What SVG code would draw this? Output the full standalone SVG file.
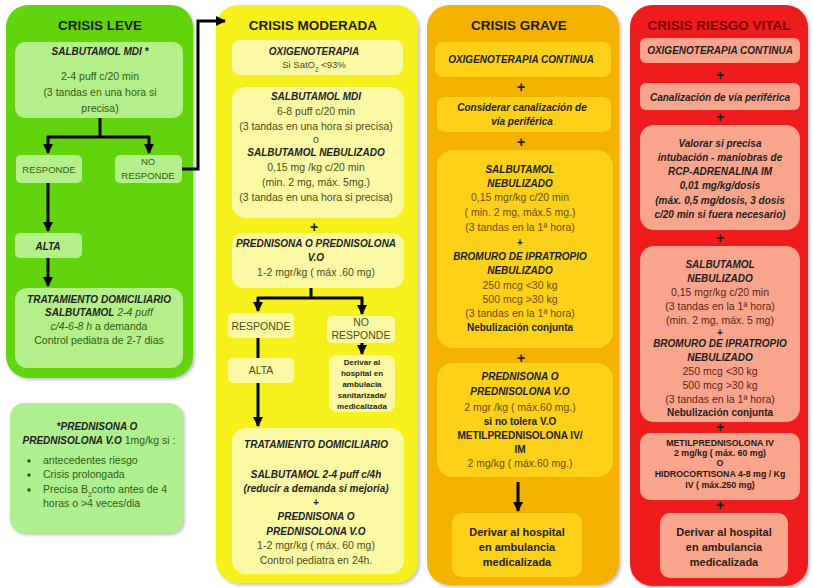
<svg xmlns="http://www.w3.org/2000/svg" width="813" height="588" viewBox="0 0 813 588">
<defs>
<style>
text{font-family:"Liberation Sans",Arial,sans-serif;text-anchor:middle}
.title{font-size:13.5px;font-weight:bold;fill:#1c1c10}
.bi{font-size:10px;font-weight:bold;font-style:italic;fill:#1e1e1e}
.it{font-style:italic}
.r{font-size:10.5px}
.b{font-size:10px;font-weight:bold;fill:#222}
.d{font-size:11px;font-weight:bold;fill:#2a2010}
.sm{font-size:8px;font-weight:bold;fill:#2a2a10}
.md{font-size:8.8px;font-weight:bold;fill:#2a1a10}
.plus{font-size:14px;font-weight:bold;fill:#1e1e1e}
.c1{fill:#62d40a}.i1{fill:#b5ef8a}.t1{fill:#2f5e14}
.c2{fill:#f6f01e}.i2{fill:#fbf9a4}.t2{fill:#4d4d14}
.c3{fill:#f3b200}.i3{fill:#fdd11a}.t3{fill:#6e4c00}
.c4{fill:#ee1b1b}.i4{fill:#f9a48c}.t4{fill:#5c2418}
.ln{fill:none;stroke:#000;stroke-width:3}
.ar{fill:none;stroke:#000;stroke-width:3;marker-end:url(#ah)}
</style>
<marker id="ah" markerUnits="userSpaceOnUse" markerWidth="12" markerHeight="10" refX="9" refY="5" orient="auto">
<path d="M0,0 L10,5 L0,10 Z" fill="#000"/>
</marker>
<filter id="sh" x="-5%" y="-5%" width="115%" height="115%">
<feDropShadow dx="2" dy="2" stdDeviation="1.5" flood-color="#888" flood-opacity="0.5"/>
</filter>
</defs>
<rect width="813" height="588" fill="#fff"/>

<!-- Column backgrounds -->
<g id="col-leve"><rect class="c1" x="6" y="5" width="187" height="373" rx="22" filter="url(#sh)"/><text class="title" x="100" y="30">CRISIS LEVE</text></g>
<g id="col-moderada"><rect class="c2" x="216" y="5" width="202" height="578" rx="22" filter="url(#sh)"/><text class="title" x="313" y="30">CRISIS MODERADA</text></g>
<g id="col-grave"><rect class="c3" x="427" y="5" width="192" height="580" rx="22" filter="url(#sh)"/><text class="title" x="519" y="30">CRISIS  GRAVE</text></g>
<g id="col-vital"><rect class="c4" x="630" y="5" width="178" height="581" rx="22" filter="url(#sh)"/><text class="title" x="719" y="30" style="fill:#7a0000">CRISIS RIESGO VITAL</text></g>

<!-- LEVE -->
<g id="leve-salbutamol"><rect class="i1" x="15" y="42" width="168" height="76" rx="10"/>
<text class="bi" x="100" y="55">SALBUTAMOL MDI *</text>
<text class="r t1" x="100" y="80">2-4 puff c/20 min</text>
<text class="r t1" x="100" y="96">(3 tandas  en una hora si</text>
<text class="r t1" x="100" y="112">precisa)</text></g>
<g id="leve-responde"><rect class="i1" x="16" y="155" width="66" height="28" rx="5"/><text class="r t1" x="49" y="173" style="font-size:9.5px">RESPONDE</text></g>
<g id="leve-noresponde"><rect class="i1" x="115" y="155" width="67" height="28" rx="5"/><text class="r t1" x="148" y="165" style="font-size:9.5px">NO</text><text class="r t1" x="148" y="179" style="font-size:9.5px">RESPONDE</text></g>
<g id="leve-alta"><rect class="i1" x="15" y="233" width="67" height="25" rx="5"/><text class="bi" x="48" y="250">ALTA</text></g>
<g id="leve-tratamiento"><rect class="i1" x="15" y="288" width="168" height="80" rx="12"/>
<text class="bi" x="99" y="303">TRATAMIENTO DOMICILIARIO</text>
<text class="r t1" x="99" y="316"><tspan class="bi">SALBUTAMOL</tspan><tspan class="it"> 2-4 puff</tspan></text>
<text class="r t1" x="99" y="330"><tspan class="it">c/4-6-8 h</tspan>  a demanda</text>
<text class="r t1" x="99" y="344">Control pediatra de 2-7 dias</text></g>
<g id="leve-nota"><rect class="i1" x="10" y="403" width="173" height="130" rx="14" style="fill:#aeef90" filter="url(#sh)"/>
<text class="bi" x="97" y="430">*PREDNISONA O</text>
<text class="r t1" x="99" y="444"><tspan class="bi">PREDNISOLONA V.O</tspan> 1mg/kg si :</text>
<circle cx="29" cy="461" r="1.8" class="t1"/><circle cx="29" cy="475" r="1.8" class="t1"/><circle cx="29" cy="490" r="1.8" class="t1"/>
<text class="r t1" x="43" y="464" style="text-anchor:start">antecedentes riesgo</text>
<text class="r t1" x="43" y="478" style="text-anchor:start">Crisis prolongada</text>
<text class="r t1" x="43" y="493" style="text-anchor:start">Precisa B<tspan baseline-shift="sub" font-size="7">2</tspan>corto antes de 4</text>
<text class="r t1" x="43" y="507" style="text-anchor:start">horas o &gt;4 veces/dia</text></g>

<!-- MODERADA -->
<g id="mod-oxigeno"><rect class="i2" x="232" y="40" width="171" height="35" rx="8"/>
<text class="bi" x="314" y="55">OXIGENOTERAPIA</text>
<text class="r t2" x="314" y="68" style="font-size:9.5px">Si SatO<tspan baseline-shift="sub" font-size="6.5">2</tspan> &lt;93%</text></g>
<g id="mod-salbutamol"><rect class="i2" x="232" y="87" width="172" height="131" rx="14"/>
<text class="bi" x="316" y="100">SALBUTAMOL MDI</text>
<text class="r t2" x="316" y="115">6-8 puff c/20 min</text>
<text class="r t2" x="316" y="130">(3 tandas  en una hora si precisa)</text>
<text class="r t2" x="316" y="143">o</text>
<text class="bi" x="316" y="156">SALBUTAMOL NEBULIZADO</text>
<text class="r t2" x="316" y="171">0,15 mg /kg c/20 min</text>
<text class="r t2" x="316" y="186">(min. 2 mg, máx. 5mg.)</text>
<text class="r t2" x="316" y="201">(3 tandas  en una hora si precisa)</text></g>
<text class="plus" x="314" y="232">+</text>
<g id="mod-prednisona"><rect class="i2" x="232" y="233" width="172" height="55" rx="12"/>
<text class="bi" x="316" y="247">PREDNISONA O PREDNISOLONA</text>
<text class="bi" x="316" y="261">V.O</text>
<text class="r t2" x="316" y="276">1-2 mgr/kg ( máx .60 mg)</text></g>
<g id="mod-responde"><rect class="i2" x="228" y="313" width="66" height="25" rx="5"/><text class="r t2" x="261" y="330">RESPONDE</text></g>
<g id="mod-noresponde"><rect class="i2" x="327" y="316" width="68" height="27" rx="5"/><text class="r t2" x="361" y="326">NO</text><text class="r t2" x="361" y="339">RESPONDE</text></g>
<g id="mod-derivar"><rect class="i2" x="329" y="355" width="66" height="57" rx="8"/>
<text class="sm" x="362" y="365">Derivar al</text>
<text class="sm" x="362" y="376">hospital en</text>
<text class="sm" x="362" y="387">ambulacia</text>
<text class="sm" x="362" y="398">sanitarizada/</text>
<text class="sm" x="362" y="409">medicalizada</text></g>
<g id="mod-alta"><rect class="i2" x="228" y="358" width="66" height="25" rx="5"/><text class="r t2" x="261" y="374">ALTA</text></g>
<g id="mod-tratamiento"><rect class="i2" x="232" y="428" width="172" height="146" rx="14"/>
<text class="bi" x="316" y="448">TRATAMIENTO DOMICILIARIO</text>
<text class="bi" x="316" y="478">SALBUTAMOL 2-4 puff c/4h</text>
<text class="bi" x="316" y="492">(reducir a demanda si mejoria)</text>
<text class="bi" x="316" y="506">+</text>
<text class="bi" x="316" y="520">PREDNISONA O</text>
<text class="bi" x="316" y="535">PREDNISOLONA V.O</text>
<text class="r t2" x="316" y="549">1-2 mgr/kg ( máx. 60 mg)</text>
<text class="r t2" x="316" y="564">Control pediatra en 24h.</text></g>

<!-- GRAVE -->
<g id="grave-oxigeno"><rect class="i3" x="435" y="42" width="176" height="35" rx="8"/>
<text class="bi" x="521" y="63">OXIGENOTERAPIA CONTINUA</text></g>
<text class="plus" x="521" y="92">+</text>
<g id="grave-canal"><rect class="i3" x="437" y="97" width="174" height="35" rx="8"/>
<text class="bi" x="522" y="111">Considerar canalización de</text>
<text class="bi" x="522" y="125">vía periférica</text></g>
<text class="plus" x="521" y="147">+</text>
<g id="grave-salbutamol"><rect class="i3" x="437" y="150" width="176" height="198" rx="16"/>
<text class="bi" x="520" y="173">SALBUTAMOL</text>
<text class="bi" x="520" y="187">NEBULIZADO</text>
<text class="r t3" x="520" y="201">0,15 mgr/kg c/20 min</text>
<text class="r t3" x="520" y="216">( min. 2 mg, máx.5 mg.)</text>
<text class="r t3" x="520" y="231">(3 tandas  en la 1ª hora)</text>
<text class="b" x="520" y="246">+</text>
<text class="bi" x="520" y="260">BROMURO DE IPRATROPIO</text>
<text class="bi" x="520" y="274">NEBULIZADO</text>
<text class="r t3" x="520" y="289">250 mcg  &lt;30 kg</text>
<text class="r t3" x="520" y="303">500 mcg  &gt;30 kg</text>
<text class="r t3" x="520" y="317">(3 tandas  en la 1ª hora)</text>
<text class="b" x="520" y="331">Nebulización conjunta</text></g>
<text class="plus" x="521" y="363">+</text>
<g id="grave-prednisona"><rect class="i3" x="437" y="363" width="176" height="114" rx="16"/>
<text class="bi" x="520" y="380">PREDNISONA O</text>
<text class="bi" x="520" y="395">PREDNISOLONA V.O</text>
<text class="r t3" x="520" y="411">2 mgr /kg ( máx.60 mg.)</text>
<text class="b" x="520" y="425">si no tolera V.O</text>
<text class="b" x="520" y="439">METILPREDNISOLONA IV/</text>
<text class="b" x="520" y="453">IM</text>
<text class="r t3" x="520" y="467">2 mg/kg ( máx.60 mg.)</text></g>
<g id="grave-derivar"><rect class="i3" x="452" y="513" width="130" height="64" rx="10"/>
<text class="d" x="517" y="536">Derivar al hospital</text>
<text class="d" x="517" y="551">en ambulancia</text>
<text class="d" x="517" y="566">medicalizada</text></g>

<!-- RIESGO VITAL -->
<g id="vital-oxigeno"><rect class="i4" x="640" y="38" width="160" height="25" rx="6"/>
<text class="bi" x="720" y="54">OXIGENOTERAPIA CONTINUA</text></g>
<text class="plus" x="720" y="80">+</text>
<g id="vital-canal"><rect class="i4" x="640" y="83" width="160" height="27" rx="6"/>
<text class="bi" x="720" y="101">Canalización de vía periférica</text></g>
<text class="plus" x="720" y="122">+</text>
<g id="vital-valorar"><rect class="i4" x="640" y="125" width="160" height="105" rx="14"/>
<text class="bi" x="720" y="147">Valorar si precisa</text>
<text class="bi" x="720" y="161">intubación - maniobras de</text>
<text class="bi" x="720" y="175">RCP-ADRENALINA IM</text>
<text class="bi" x="720" y="189">0,01 mg/kg/dosis</text>
<text class="bi" x="720" y="204">(máx. 0,5 mg/dosis, 3 dosis</text>
<text class="bi" x="720" y="218">c/20 min si fuera necesario)</text></g>
<text class="plus" x="720" y="243">+</text>
<g id="vital-salbutamol"><rect class="i4" x="640" y="246" width="160" height="176" rx="14"/>
<text class="bi" x="720" y="268">SALBUTAMOL</text>
<text class="bi" x="720" y="282">NEBULIZADO</text>
<text class="r t4" x="720" y="296">0,15 mgr/kg c/20 min</text>
<text class="r t4" x="720" y="310">(3 tandas  en la 1ª hora)</text>
<text class="r t4" x="720" y="324">(min. 2 mg, máx. 5 mg)</text>
<text class="b" x="720" y="336">+</text>
<text class="bi" x="720" y="347">BROMURO DE IPRATROPIO</text>
<text class="bi" x="720" y="361">NEBULIZADO</text>
<text class="r t4" x="720" y="375">250 mcg  &lt;30 kg</text>
<text class="r t4" x="720" y="389">500 mcg  &gt;30 kg</text>
<text class="r t4" x="720" y="403">(3 tandas  en la 1ª hora)</text>
<text class="b" x="720" y="416">Nebulización conjunta</text></g>
<text class="plus" x="720" y="432">+</text>
<g id="vital-metil"><rect class="i4" x="640" y="433" width="160" height="67" rx="10"/>
<text class="md" x="720" y="446">METILPREDNISOLONA IV</text>
<text class="md" x="720" y="456">2 mg/kg ( máx. 60 mg)</text>
<text class="md" x="720" y="466">O</text>
<text class="md" x="720" y="477">HIDROCORTISONA 4-8 mg / Kg</text>
<text class="md" x="720" y="488">IV ( máx.250 mg)</text></g>
<text class="plus" x="720" y="510">+</text>
<g id="vital-derivar"><rect class="i4" x="660" y="513" width="128" height="65" rx="10"/>
<text class="d" x="724" y="536">Derivar al hospital</text>
<text class="d" x="724" y="551">en ambulancia</text>
<text class="d" x="724" y="566">medicalizada</text></g>

<!-- Connectors -->
<g id="connectors">
<path class="ln" d="M100,118 V137 M47,137 H150"/>
<path class="ar" d="M48,136 V153"/>
<path class="ar" d="M149,136 V153"/>
<path class="ar" d="M182,169 H198 V21 H225"/>
<path class="ar" d="M48,183 V231"/>
<path class="ar" d="M48,258 V286"/>
<path class="ln" d="M311,288 V298 M257,298 H363"/>
<path class="ar" d="M258,297 V311"/>
<path class="ar" d="M362,297 V314"/>
<path class="ar" d="M362,343 V354"/>
<path class="ln" d="M258,338 V358"/>
<path class="ar" d="M258,383 V426"/>
<path class="ar" d="M518,482 V511"/>
</g>
</svg>
